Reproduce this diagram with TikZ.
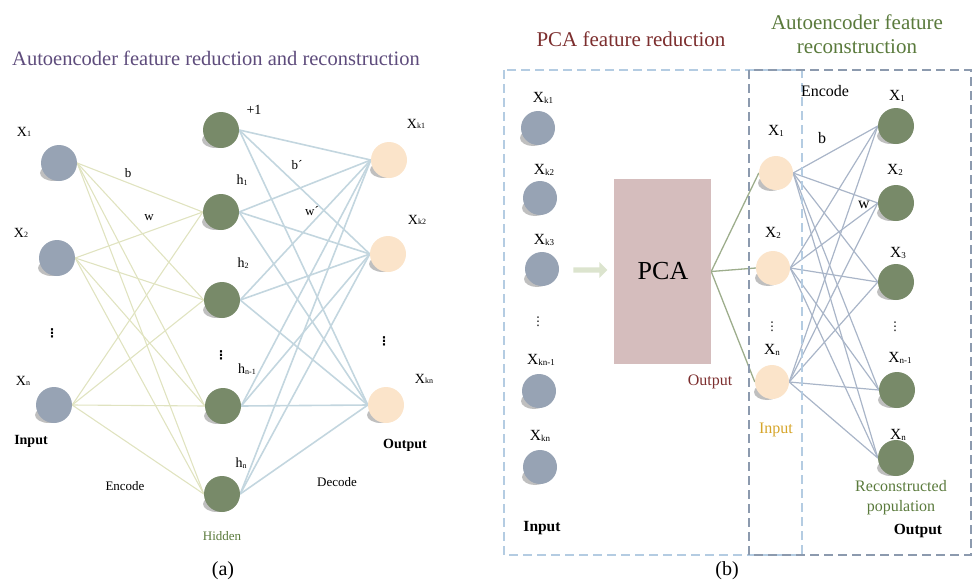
\documentclass[tikz,border=0pt]{standalone}
\usepackage{fontspec}
\setmainfont{Liberation Serif}
\newfontfamily\dejavu{DejaVu Sans}
\usetikzlibrary{backgrounds,shapes.arrows}
\definecolor{inblue}{HTML}{97A3B4}
\definecolor{hidgreen}{HTML}{788A69}
\definecolor{outpeach}{HTML}{FBE4CA}
\definecolor{enclin}{HTML}{E0E3C0}
\definecolor{declin}{HTML}{C3D6DF}
\definecolor{titlepurple}{HTML}{5E4C7C}
\definecolor{darkred}{HTML}{7C2E2E}
\definecolor{olive}{HTML}{5A7A3C}
\definecolor{gold}{HTML}{D6A52A}
\definecolor{pcafill}{HTML}{D5BDBD}
\definecolor{pcalin}{HTML}{9DAD8C}
\definecolor{aelin}{HTML}{A9B5C8}
\definecolor{boxblue}{HTML}{B4CCE2}
\definecolor{boxgray}{HTML}{8C9AAE}
\definecolor{arrowfill}{HTML}{DCE4CE}
\tikzset{
  neuron/.style={circle,minimum size=36pt,inner sep=0pt,draw=none},
  inn/.style={neuron,fill=inblue},
  hidn/.style={neuron,fill=hidgreen},
  outn/.style={neuron,fill=outpeach},
  shad/.style={fill=black,opacity=0.25},
  lab/.style={font=\fontsize{14}{14}\selectfont,inner sep=0pt},
  labb/.style={font=\fontsize{15.5}{15.5}\selectfont,inner sep=0pt},
  txt/.style={font=\fontsize{13}{13}\selectfont,inner sep=0pt},
  txtb/.style={font=\fontsize{16}{16}\selectfont,inner sep=0pt},
  bold/.style={font=\fontsize{14}{14}\selectfont\bfseries,inner sep=0pt},
  boldb/.style={font=\fontsize{15.5}{15.5}\selectfont\bfseries,inner sep=0pt},
  title/.style={font=\fontsize{21}{24}\selectfont,inner sep=0pt,align=center},
  enc/.style={draw=enclin,line width=1.1pt},
  dec/.style={draw=declin,line width=1.6pt},
  pcal/.style={draw=pcalin,line width=1.3pt},
  ael/.style={draw=aelin,line width=1.2pt},
  vdots/.style={font=\dejavu\bfseries\fontsize{12}{12}\selectfont,inner sep=0pt},
  vdotsl/.style={font=\dejavu\fontsize{12}{12}\selectfont,inner sep=0pt}
}
\newcommand{\sbs}[1]{\raisebox{-0.3pt}{\fontsize{8}{8}\selectfont #1}}
\newcommand{\sbsb}[1]{\raisebox{-0.3pt}{\fontsize{9}{9}\selectfont #1}}
% \neur{style}{name}{x,y}{size}
\newcommand{\neur}[4]{%
  \fill[shad] (#3) ++(-5,10) ellipse ({#4/2-4} and 8);
  \node[#1,minimum size=#4pt] (#2) at (#3) {};}
\begin{document}
\begin{tikzpicture}[x=1pt,y=-1pt]
\useasboundingbox (0,0) rectangle (972,584);
% ---------------- panel (a) ----------------
\node[title,text=titlepurple,font=\fontsize{20.5}{24}\selectfont] (ta) at (216,58) {Autoencoder feature reduction and reconstruction};
\neur{inn}{x1}{59,163}{36}
\neur{inn}{x2}{57,258}{36}
\neur{inn}{xn}{54,405}{36}
\node[lab] (lx1) at (24,132) {X\sbs{1}};
\node[lab] (lx2) at (21,233) {X\sbs{2}};
\node[lab] (lxn) at (23,381) {X\sbs{n}};
\node[vdots] (dx) at (52,333) {⋮};
\node[bold] (inA) at (31,441) {Input};

\neur{hidn}{hp}{221,130}{36}
\neur{hidn}{h1}{221,212}{36}
\neur{hidn}{h2}{222,300}{36}
\neur{hidn}{hn1}{223,406}{36}
\neur{hidn}{hn}{222,494}{36}
\node[lab] (lhp) at (254,110) {+1};
\node[lab] (lh1) at (242,180) {h\sbs{1}};
\node[lab] (lh2) at (243,263) {h\sbs{2}};
\node[vdots] (dh) at (221,355) {⋮};
\node[lab] (lhn1) at (247,369) {h\sbs{n-1}};
\node[lab] (lhn) at (241,463) {h\sbs{n}};
\node[txt,text=olive] (hidA) at (222,536) {Hidden};
\node[txt] (encA) at (125,486) {Encode};
\node[txt] (decA) at (337,482) {Decode};

\neur{outn}{y1}{389,160}{36}
\neur{outn}{y2}{388,254}{36}
\neur{outn}{yn}{386,405}{36}
\node[lab] (ly1) at (416,124) {X\sbs{k1}};
\node[lab] (ly2) at (417,220) {X\sbs{k2}};
\node[lab] (lyn) at (424,379) {X\sbs{kn}};
\node[vdots] (dy) at (384,341) {⋮};
\node[bold] (outA) at (405,445) {Output};

\node[txt] (lb) at (128,173) {b};
\node[txt] (lw) at (149,218) {w};
\node[txt] (lbp) at (297,165) {b´};
\node[txt] (lwp) at (312,211) {w´};

\node[font=\fontsize{20}{20}\selectfont,inner sep=0pt] (capa) at (223,571) {(a)};

\begin{scope}[on background layer]
\foreach \i in {x1,x2,xn}{
  \foreach \h in {h1,h2,hn1,hn}{
    \draw[enc] (\i.east) -- (\h.west);
  }
}
\foreach \h in {hp,h1,h2,hn1,hn}{
  \foreach \o in {y1,y2,yn}{
    \draw[dec] (\h.east) -- (\o.west);
  }
}
\end{scope}

% ---------------- panel (b) ----------------
\node[title,text=darkred] (tb1) at (631,39) {PCA feature reduction};
\node[title,text=olive] (tb2) at (857,34) {Autoencoder feature\\reconstruction};
\draw[boxblue,dash pattern=on 9pt off 5pt,line width=1.2pt] (504,70) rectangle (802,555);
\draw[boxgray,dash pattern=on 9pt off 5pt,line width=1.2pt] (749,70) rectangle (971,555);

\neur{inn}{p1}{538,128}{34}
\neur{inn}{p2}{540,198}{34}
\neur{inn}{p3}{542,269}{34}
\neur{inn}{p4}{539,391}{34}
\neur{inn}{p5}{540,467}{34}
\node[labb] (lp1) at (543,98) {X\sbsb{k1}};
\node[labb] (lp2) at (544,170) {X\sbsb{k2}};
\node[labb] (lp3) at (544,240) {X\sbsb{k3}};
\node[vdotsl] (dp) at (538,322) {⋮};
\node[labb] (lp4) at (541,360) {X\sbsb{kn-1}};
\node[labb] (lp5) at (540,436) {X\sbsb{kn}};
\node[boldb] (inB) at (542,528) {Input};

\node[single arrow,fill=arrowfill,draw=none,minimum height=34pt,minimum width=16pt,single arrow head extend=2.5pt,inner sep=1pt] (arr) at (589,270) {};
\node[fill=pcafill,minimum width=97pt,minimum height=185pt,inner sep=0pt] (pca) at (662.5,271.5) {};
\node[font=\fontsize{26}{26}\selectfont,inner sep=0pt] (pcat) at (663,271) {PCA};
\node[txtb,text=darkred] (outP) at (710,382) {Output};

\neur{outn}{q1}{776,173}{34}
\neur{outn}{q2}{773,268}{34}
\neur{outn}{qn}{772,382}{34}
\node[labb] (lq1) at (776,131) {X\sbsb{1}};
\node[labb] (lq2) at (773,233) {X\sbsb{2}};
\node[vdotsl] (dq) at (772,327) {⋮};
\node[labb] (lqn) at (772,350) {X\sbsb{n}};
\node[txtb,text=gold] (inQ) at (776,430) {Input};

\neur{hidn}{r1}{896,126}{36}
\neur{hidn}{r2}{896,203}{36}
\neur{hidn}{r3}{896,282}{36}
\neur{hidn}{r4}{897,390}{36}
\neur{hidn}{r5}{896,458}{36}
\node[labb] (lr1) at (897,96) {X\sbsb{1}};
\node[labb] (lr2) at (895,170) {X\sbsb{2}};
\node[labb] (lr3) at (898,253) {X\sbsb{3}};
\node[vdotsl] (dr) at (895,327) {⋮};
\node[labb] (lr4) at (900,358) {X\sbsb{n-1}};
\node[labb] (lr5) at (898,435) {X\sbsb{n}};
\node[txtb] (encB) at (825,91) {Encode};
\node[txtb] (bB) at (822,138) {b};
\node[txtb] (wB) at (864,205) {w};
\node[txtb,text=olive,align=center,font=\fontsize{16}{20}\selectfont] (rec) at (901,498) {Reconstructed\\population};
\node[boldb] (outB) at (918,531) {Output};

\node[font=\fontsize{20}{20}\selectfont,inner sep=0pt] (capb) at (727,571) {(b)};

\begin{scope}[on background layer]
\foreach \q in {q1,q2,qn}{
  \draw[pcal] (pca.east) -- (\q.west);
  \foreach \r in {r1,r2,r3,r4,r5}{
    \draw[ael] (\q.east) -- (\r.west);
  }
}
\end{scope}
\end{tikzpicture}
\end{document}
